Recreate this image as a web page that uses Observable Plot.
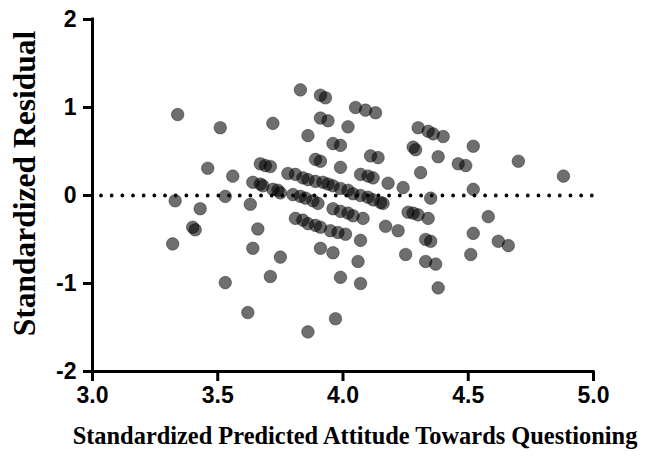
<!DOCTYPE html>
<html>
<head>
<meta charset="utf-8">
<script src="https://cdn.jsdelivr.net/npm/d3@7"></script>
<script src="https://cdn.jsdelivr.net/npm/@observablehq/plot@0.6"></script>
<style>
  html, body { margin: 0; padding: 0; background: #fff; }
</style>
</head>
<body>
<div id="chart"></div>
<script>
// Standardized predicted values (x) and standardized residuals (y)
const predicted = [
  3.34,3.51,3.46,3.56,3.33,3.43,3.53,3.63,3.40,3.41,3.32,3.53,3.62,3.64,3.66,
  3.64,3.67,3.68,3.67,3.69,3.71,3.72,3.74,3.75,3.75,3.71,
  3.83,3.91,3.93,4.05,4.09,4.13,3.91,3.94,4.02,3.72,3.86,3.96,3.99,3.89,3.91,
  4.11,4.14,3.99,4.07,4.10,4.12,4.18,4.24,
  3.78,3.81,3.84,3.86,3.89,3.92,3.94,
  3.80,3.83,3.85,3.88,3.90,
  3.96,3.99,4.02,4.04,4.07,4.10,4.12,4.15,4.16,
  3.96,3.99,4.02,4.04,4.08,
  3.81,3.84,3.86,3.89,3.91,
  3.95,3.98,4.01,
  3.91,3.96,4.07,4.06,3.99,4.07,3.86,3.97,4.17,4.22,4.25,
  4.30,4.34,4.36,4.40,4.28,4.29,4.38,4.52,4.46,4.49,4.31,4.52,4.70,4.88,4.35,
  4.26,4.28,4.30,4.34,4.58,4.33,4.35,4.62,4.66,4.52,4.51,4.33,4.37,4.38
];
const residual = [
  0.92,0.77,0.31,0.22,-0.06,-0.15,-0.01,-0.10,-0.36,-0.39,-0.55,-0.99,-1.33,-0.60,-0.38,
  0.15,0.13,0.11,0.36,0.34,0.33,0.07,0.06,0.03,-0.70,-0.92,
  1.20,1.14,1.11,1.00,0.97,0.94,0.88,0.85,0.78,0.82,0.68,0.59,0.57,0.41,0.39,
  0.45,0.43,0.32,0.24,0.22,0.20,0.14,0.09,
  0.25,0.24,0.20,0.18,0.16,0.15,0.13,
  0.01,-0.01,-0.03,-0.06,-0.09,
  0.11,0.08,0.06,0.02,0.00,-0.02,-0.05,-0.08,-0.09,
  -0.15,-0.18,-0.20,-0.23,-0.26,
  -0.26,-0.28,-0.32,-0.34,-0.36,
  -0.40,-0.42,-0.44,
  -0.60,-0.65,-0.51,-0.75,-0.93,-1.00,-1.55,-1.40,-0.35,-0.40,-0.67,
  0.77,0.73,0.70,0.67,0.55,0.52,0.44,0.56,0.36,0.34,0.26,0.07,0.39,0.22,-0.03,
  -0.19,-0.20,-0.22,-0.26,-0.24,-0.50,-0.52,-0.52,-0.57,-0.43,-0.67,-0.75,-0.78,-1.05
];
const xTicks = [3.0, 3.5, 4.0, 4.5, 5.0];
const yTicks = [-2, -1, 0, 1, 2];
const xTitle = "Standardized Predicted Attitude Towards Questioning";
const yTitle = "Standardized Residual";

const points = predicted.map((x, i) => ({x, y: residual[i]}));

const chart = Plot.plot({
  width: 665,
  height: 457,
  marginLeft: 92,
  marginRight: 72,
  marginTop: 19,
  marginBottom: 86,
  style: {fontFamily: "'Liberation Sans', Arial, sans-serif", background: "#fff"},
  x: {domain: [3, 5]},
  y: {domain: [-2, 2]},
  marks: [
    Plot.dot(points, {
      x: "x", y: "y", r: 6.3,
      fill: "black", fillOpacity: 0.57,
      stroke: "black", strokeOpacity: 0.35, strokeWidth: 1
    }),
    Plot.ruleY([0], {
      stroke: "black", strokeWidth: 3.8, strokeLinecap: "round",
      strokeDasharray: "0,10.67", strokeDashoffset: 1.67
    }),
    Plot.axisX({
      ticks: xTicks, tickFormat: d => d.toFixed(1), tickSize: 10, tickPadding: 5,
      strokeWidth: 3, fontSize: 23, fontWeight: "bold", label: null
    }),
    Plot.axisY({
      ticks: yTicks, tickFormat: d => String(d), tickSize: 9, tickPadding: 7,
      strokeWidth: 3, fontSize: 23, fontWeight: "bold", label: null
    }),
    Plot.ruleX([3], {stroke: "black", strokeWidth: 3, strokeLinecap: "square"}),
    Plot.ruleY([-2], {stroke: "black", strokeWidth: 3, strokeLinecap: "square"}),
    Plot.text([xTitle], {
      frameAnchor: "bottom", dy: 72, dx: 12, fontSize: 24.4, fontWeight: "bold",
      fontFamily: "'Liberation Serif', 'Times New Roman', serif", fill: "black"
    }),
    Plot.text([yTitle], {
      frameAnchor: "left", textAnchor: "middle", lineAnchor: "middle",
      rotate: -90, dx: -68, dy: -12, fontSize: 31.5, fontWeight: "bold",
      fontFamily: "'Liberation Serif', 'Times New Roman', serif", fill: "black"
    })
  ]
});
document.getElementById("chart").appendChild(chart);
</script>
</body>
</html>
